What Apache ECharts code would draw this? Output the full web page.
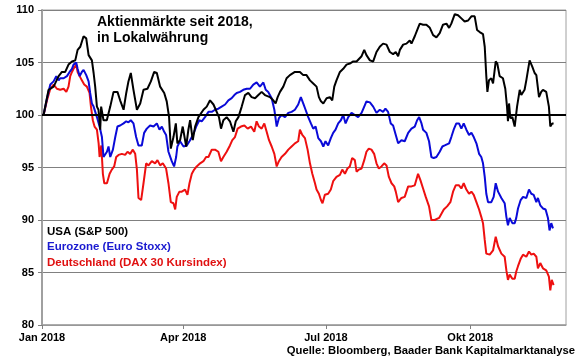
<!DOCTYPE html>
<html>
<head>
<meta charset="utf-8">
<script src="https://cdn.jsdelivr.net/npm/echarts@6/dist/echarts.min.js"></script>
<style>html,body{margin:0;padding:0;background:#fff}#c{width:580px;height:359px}</style>
</head>
<body>
<div id="c"></div>
<script>
// x values: days since 1 Jan 2018
const tickDays = [0, 90, 181, 273];
const tickLabels = ['Jan 2018', 'Apr 2018', 'Jul 2018', 'Okt 2018'];
const seriesNames = ['USA (S&P 500)', 'Eurozone (Euro Stoxx)', 'Deutschland (DAX 30 Kursindex)'];

const usaDays = [1.0,4.2,7.4,10.6,12.7,14.8,16.9,19.1,21.2,22.7,24.4,26.5,28.2,29.7,31.8,32.9,33.9,35.0,36.0,37.1,37.7,39.2,41.3,43.5,45.6,48.1,49.8,52.0,53.7,55.1,56.6,58.3,60.5,62.6,64.7,67.2,69.4,71.5,73.2,75.3,77.9,79.5,81.0,82.1,83.8,85.3,86.3,88.0,89.7,91.9,93.3,94.4,96.1,97.6,99.7,102.9,105.0,107.1,109.3,
112.8,114.1,115.6,117.7,119.8,122.0,123.5,125.2,127.3,129.4,131.5,133.6,135.8,137.9,140.0,142.1,145.3,147.4,148.9,150.2,151.7,153.8,155.9,158.0,161.2,164.4,166.5,168.6,170.8,172.9,175.0,176.5,177.8,179.3,181.4,183.5,185.0,186.3,187.7,189.9,192.0,194.1,196.2,198.4,200.5,203.7,205.4,206.8,209.0,211.1,213.2,215.3,217.4,219.6,
221.7,223.8,225.5,227.0,228.1,230.2,232.3,234.4,235.5,237.6,239.7,240.8,242.9,245.0,247.2,249.3,251.4,253.5,255.6,257.8,259.5,260.9,263.1,265.2,267.3,269.4,271.6,273.7,275.8,277.3,279.0,281.1,282.2,283.2,283.9,284.9,286.4,287.5,289.2,290.2,291.7,293.8,295.3,296.4,297.0,297.7,298.5,299.8,301.3,302.8,304.5,305.5,307.6,308.7,310.8,312.5,314.0,315.1,316.8,318.2,319.3,321.4,323.1,324.0,325.2,326.1];
const usaValues = [100.0,102.4,102.7,103.7,104.1,104.1,104.8,105.1,105.2,106.2,106.5,107.5,107.3,105.7,105.2,104.0,102.7,100.8,100.5,98.6,100.8,99.5,99.5,100.8,102.2,102.2,101.4,100.5,102.1,103.2,104.0,102.4,100.5,101.1,102.4,102.5,103.2,104.1,104.0,102.7,102.1,101.3,99.8,96.8,97.9,99.2,97.3,97.6,98.9,97.0,98.6,99.5,97.6,98.9,99.8,100.5,100.8,101.4,101.0,
99.8,98.7,99.5,99.8,99.4,98.4,99.4,99.8,100.8,101.9,102.1,101.7,101.6,101.9,102.2,101.9,101.7,101.4,101.1,101.7,102.2,102.7,103.5,103.8,104.1,104.1,103.8,103.8,103.3,103.0,102.7,101.7,101.3,101.1,101.6,101.7,101.4,102.7,103.3,104.1,104.4,104.8,104.9,105.1,105.1,105.6,106.2,105.7,105.2,105.1,106.0,106.5,106.8,106.7,
106.0,105.8,106.0,105.6,106.2,106.7,106.8,107.1,106.8,107.5,108.3,108.7,108.6,108.6,108.3,107.6,107.4,107.8,108.6,108.7,108.3,108.7,109.6,109.5,109.2,108.9,109.0,109.4,109.4,108.1,107.9,107.7,106.5,103.7,102.2,103.3,103.5,103.0,105.1,104.9,103.7,103.5,102.5,100.8,99.4,101.1,99.7,99.8,98.9,100.8,102.4,101.9,102.4,103.3,105.2,104.6,104.0,103.8,101.7,102.2,102.4,102.2,100.8,98.9,99.2,99.2];

const euroDays = [1.0,3.2,5.3,7.4,9.1,10.6,11.6,13.8,15.9,17.6,19.1,20.1,21.8,22.7,24.0,25.4,26.5,28.2,29.7,30.7,31.8,32.9,35.0,36.7,38.2,39.2,40.3,41.4,42.4,43.5,45.2,46.7,48.1,49.8,52.0,53.7,55.1,56.6,58.3,60.0,61.5,63.6,65.1,66.8,68.9,71.1,73.2,74.9,76.4,77.9,79.1,80.6,82.7,84.2,85.5,86.3,88.0,90.2,92.3,94.0,95.5,97.0,98.6,100.3,101.8,103.9,106.1,108.2,110.3,
112.4,114.5,116.7,118.8,120.9,122.6,124.1,126.2,128.3,130.5,132.6,134.7,136.8,138.9,141.1,142.6,144.2,146.4,148.1,149.6,151.0,152.7,154.9,157.0,159.1,161.2,163.3,165.0,166.5,168.0,169.7,171.4,172.9,174.4,176.1,177.8,179.3,180.7,182.4,184.1,185.6,187.1,188.8,190.5,192.0,193.5,195.2,197.3,199.4,201.5,203.7,205.4,206.8,209.0,211.1,213.2,215.3,217.4,218.9,220.6,222.3,223.8,
225.5,227.0,229.1,231.2,233.4,235.5,237.6,239.1,240.4,241.9,242.9,245.0,246.7,248.2,249.7,251.4,253.5,255.2,256.7,259.5,260.9,262.4,264.1,265.8,267.3,268.8,270.5,272.2,273.7,275.2,276.9,278.6,280.0,281.1,282.2,283.2,284.3,286.4,287.9,289.2,290.7,292.8,294.9,296.0,297.0,298.1,299.8,301.3,302.3,303.4,305.1,306.6,308.7,310.4,311.9,313.4,315.1,316.1,317.6,319.3,321.0,322.5,323.5,324.6,325.7];
const euroValues = [100.0,101.6,102.9,103.2,103.7,103.3,103.5,103.5,103.7,104.1,104.4,104.8,105.0,104.4,103.7,104.1,104.3,103.8,103.2,102.1,101.1,100.8,99.8,98.9,97.9,96.0,95.9,96.5,97.0,96.0,96.7,97.9,98.9,99.0,99.2,99.4,99.3,99.5,99.2,97.9,97.1,97.1,98.3,98.7,99.0,98.9,99.2,98.6,98.9,98.4,98.1,96.5,95.6,95.1,96.0,97.0,97.5,97.0,97.1,97.5,97.9,98.4,99.0,99.5,99.4,99.8,100.3,100.3,100.5,
100.6,100.8,101.0,101.4,101.6,101.9,102.1,102.2,102.4,102.5,102.5,102.9,103.1,102.7,103.1,102.4,102.2,101.6,100.5,98.9,99.7,100.0,99.8,100.2,100.3,100.5,101.0,101.7,101.1,100.5,99.8,99.2,98.7,98.9,97.8,97.5,97.0,97.5,97.1,97.8,98.3,98.6,99.2,99.5,100.0,99.2,99.8,100.2,100.0,99.8,100.2,100.8,101.3,101.2,100.8,100.2,100.5,100.3,100.6,100.3,99.2,99.0,
98.1,97.3,97.6,97.5,98.3,98.7,98.9,99.5,99.8,99.2,98.6,98.3,97.5,96.0,95.9,96.0,96.5,97.0,97.1,97.3,97.9,98.6,99.2,99.2,98.7,99.2,98.6,98.1,98.3,97.9,97.3,96.3,96.0,95.4,94.1,92.5,91.7,91.7,92.2,93.5,92.7,92.1,91.6,90.3,89.5,90.2,89.7,89.7,90.2,91.1,91.9,92.2,92.1,92.9,92.5,92.4,91.7,92.1,91.4,91.1,91.0,90.2,89.0,89.7,89.2];

const daxDays = [1.0,3.2,5.3,7.4,9.5,11.6,13.8,15.5,16.9,18.0,19.1,20.1,21.8,22.7,24.0,25.4,26.9,28.6,30.3,31.2,32.4,33.5,35.0,36.1,36.7,37.8,38.8,39.7,41.4,43.1,44.5,46.0,47.3,48.8,50.9,53.0,54.5,56.2,57.9,59.4,60.5,61.5,63.2,64.7,66.4,67.9,70.0,72.1,73.6,75.3,77.0,79.1,80.6,82.1,83.8,84.9,85.9,87.6,89.1,91.2,92.7,94.0,95.5,97.0,98.6,100.8,102.9,104.6,106.1,108.2,110.3,
112.4,114.1,115.6,117.7,119.8,121.3,123.0,124.7,126.8,129.0,131.1,133.2,135.3,136.8,138.3,140.0,141.7,143.2,144.7,146.4,148.1,149.6,151.0,152.7,154.9,157.0,159.1,161.2,163.3,164.4,165.9,167.6,169.3,170.8,172.3,174.0,175.0,176.5,177.8,178.8,180.3,182.4,184.1,185.6,187.7,189.9,191.4,193.1,194.7,196.2,197.7,199.4,200.5,202.0,203.7,205.4,206.8,208.3,210.0,211.7,213.2,214.7,216.4,218.1,219.6,221.1,222.8,224.5,
225.5,227.0,229.1,231.2,233.4,235.5,237.6,239.7,241.2,242.9,244.6,246.7,248.2,250.3,253.1,254.6,256.1,258.2,260.3,262.0,263.7,265.8,267.3,268.8,270.5,272.2,273.7,275.2,276.9,278.6,280.0,281.1,282.2,283.2,285.4,287.5,289.2,290.7,292.8,294.9,296.0,297.0,298.1,299.8,301.3,302.3,303.4,305.1,306.6,308.7,310.4,311.9,313.4,315.1,316.1,317.6,319.3,321.4,323.1,324.0,324.9,326.1];
const daxValues = [100.0,101.4,102.5,102.9,102.5,102.4,102.5,102.2,102.7,103.7,104.1,104.4,104.8,104.1,103.7,103.3,102.9,102.7,102.1,100.8,99.5,98.9,98.6,97.3,96.0,97.1,94.4,93.5,93.5,94.4,94.8,95.1,96.0,96.2,96.3,96.2,96.5,96.3,96.7,96.3,94.8,92.1,91.9,93.5,95.4,95.2,95.6,95.4,95.7,95.2,95.4,94.9,93.5,91.7,91.6,91.0,92.2,92.7,92.7,92.9,92.4,93.5,94.4,94.8,95.1,95.4,95.6,96.0,96.0,96.7,96.7,
96.5,95.6,96.0,96.5,97.1,97.6,97.9,98.7,98.9,99.0,98.7,98.9,98.4,99.4,98.9,98.7,99.2,98.4,97.6,97.0,96.3,95.1,95.6,96.0,96.3,96.7,97.0,97.3,97.5,98.6,98.1,97.8,96.7,95.4,94.4,93.5,92.9,92.5,91.9,91.6,92.4,92.5,92.9,93.7,94.1,94.3,94.8,94.4,94.9,95.1,95.9,95.7,94.6,94.8,94.9,95.7,96.5,96.8,96.7,96.3,95.4,94.9,95.1,95.4,95.2,94.1,93.5,93.2,
92.7,91.7,92.1,92.2,93.2,93.2,93.3,94.4,93.8,93.0,92.2,91.3,90.0,90.0,90.2,90.6,91.0,91.3,91.7,92.7,93.3,93.3,93.0,93.5,92.9,92.5,92.7,92.4,91.7,91.0,90.3,89.7,88.1,86.8,86.7,87.1,88.4,87.5,86.8,86.5,85.2,84.3,84.8,84.4,84.4,85.1,85.6,86.3,86.7,86.5,87.0,86.7,86.8,86.5,85.4,85.9,85.4,85.2,84.6,83.3,84.3,83.8];

const FONT = "'Liberation Sans', Arial, sans-serif";
const COLORS = ['#000000', '#0a0ad8', '#ee1010'];
const pair = (xs, ys) => xs.map((x, i) => [x, ys[i]]);

const chart = echarts.init(document.getElementById('c'), null, {renderer: 'canvas'});
chart.setOption({
  animation: false,
  backgroundColor: '#fff',
  textStyle: {fontFamily: FONT},
  title: {
    text: 'Aktienmärkte seit 2018,\nin Lokalwährung',
    left: 97, top: 14, padding: 0,
    textStyle: {fontFamily: FONT, fontSize: 14, fontWeight: 'bold', color: '#000', lineHeight: 16}
  },
  legend: {
    orient: 'vertical', left: 42, top: 224.7, padding: 0,
    icon: 'none', itemWidth: 0, itemHeight: 14, itemGap: 1.4,
    selectedMode: false,
    textStyle: {fontFamily: FONT, fontSize: 11.5, fontWeight: 'bold', lineHeight: 14},
    data: [
      {name: seriesNames[0], textStyle: {color: COLORS[0]}},
      {name: seriesNames[1], textStyle: {color: '#1a1ad0'}},
      {name: seriesNames[2], textStyle: {color: '#e01010'}}
    ]
  },
  grid: {left: 42, right: 14, top: 10, bottom: 34, show: true, borderColor: '#a0a0a0', borderWidth: 1},
  xAxis: {
    type: 'value', min: 0, max: 334,
    axisLine: {show: true, lineStyle: {color: '#a0a0a0', width: 1.5}},
    axisTick: {show: true, customValues: tickDays, length: 4, lineStyle: {color: '#808080'}},
    axisLabel: {
      customValues: tickDays,
      formatter: v => tickLabels[tickDays.indexOf(v)] || '',
      fontFamily: FONT, fontSize: 11, fontWeight: 'bold', color: '#000', margin: 7
    },
    splitLine: {show: false}
  },
  yAxis: {
    type: 'value', min: 80, max: 110, interval: 5,
    axisLine: {show: true, lineStyle: {color: '#a0a0a0', width: 2}},
    axisTick: {show: true, length: 4, lineStyle: {color: '#808080'}},
    axisLabel: {fontFamily: FONT, fontSize: 11, fontWeight: 'bold', color: '#000', margin: 8},
    splitLine: {show: true, lineStyle: {color: '#808080', width: 1}}
  },
  graphic: [{
    type: 'text', x: 575, y: 351,
    style: {
      text: 'Quelle: Bloomberg, Baader Bank Kapitalmarktanalyse',
      font: "bold 11.25px " + FONT, fill: '#000',
      textAlign: 'right', textVerticalAlign: 'middle'
    }
  }],
  series: [
    {name: seriesNames[2], type: 'line', data: pair(daxDays, daxValues), showSymbol: false, symbol: 'none',
     lineStyle: {color: COLORS[2], width: 2}, itemStyle: {color: COLORS[2]}},
    {name: seriesNames[1], type: 'line', data: pair(euroDays, euroValues), showSymbol: false, symbol: 'none',
     lineStyle: {color: COLORS[1], width: 2}, itemStyle: {color: COLORS[1]}},
    {name: seriesNames[0], type: 'line', data: pair(usaDays, usaValues), showSymbol: false, symbol: 'none',
     lineStyle: {color: COLORS[0], width: 2}, itemStyle: {color: COLORS[0]},
     markLine: {silent: true, symbol: 'none', label: {show: false}, animation: false,
       lineStyle: {color: '#000', width: 2, type: 'solid'}, data: [{yAxis: 100}]}}
  ]
});
</script>
</body>
</html>
